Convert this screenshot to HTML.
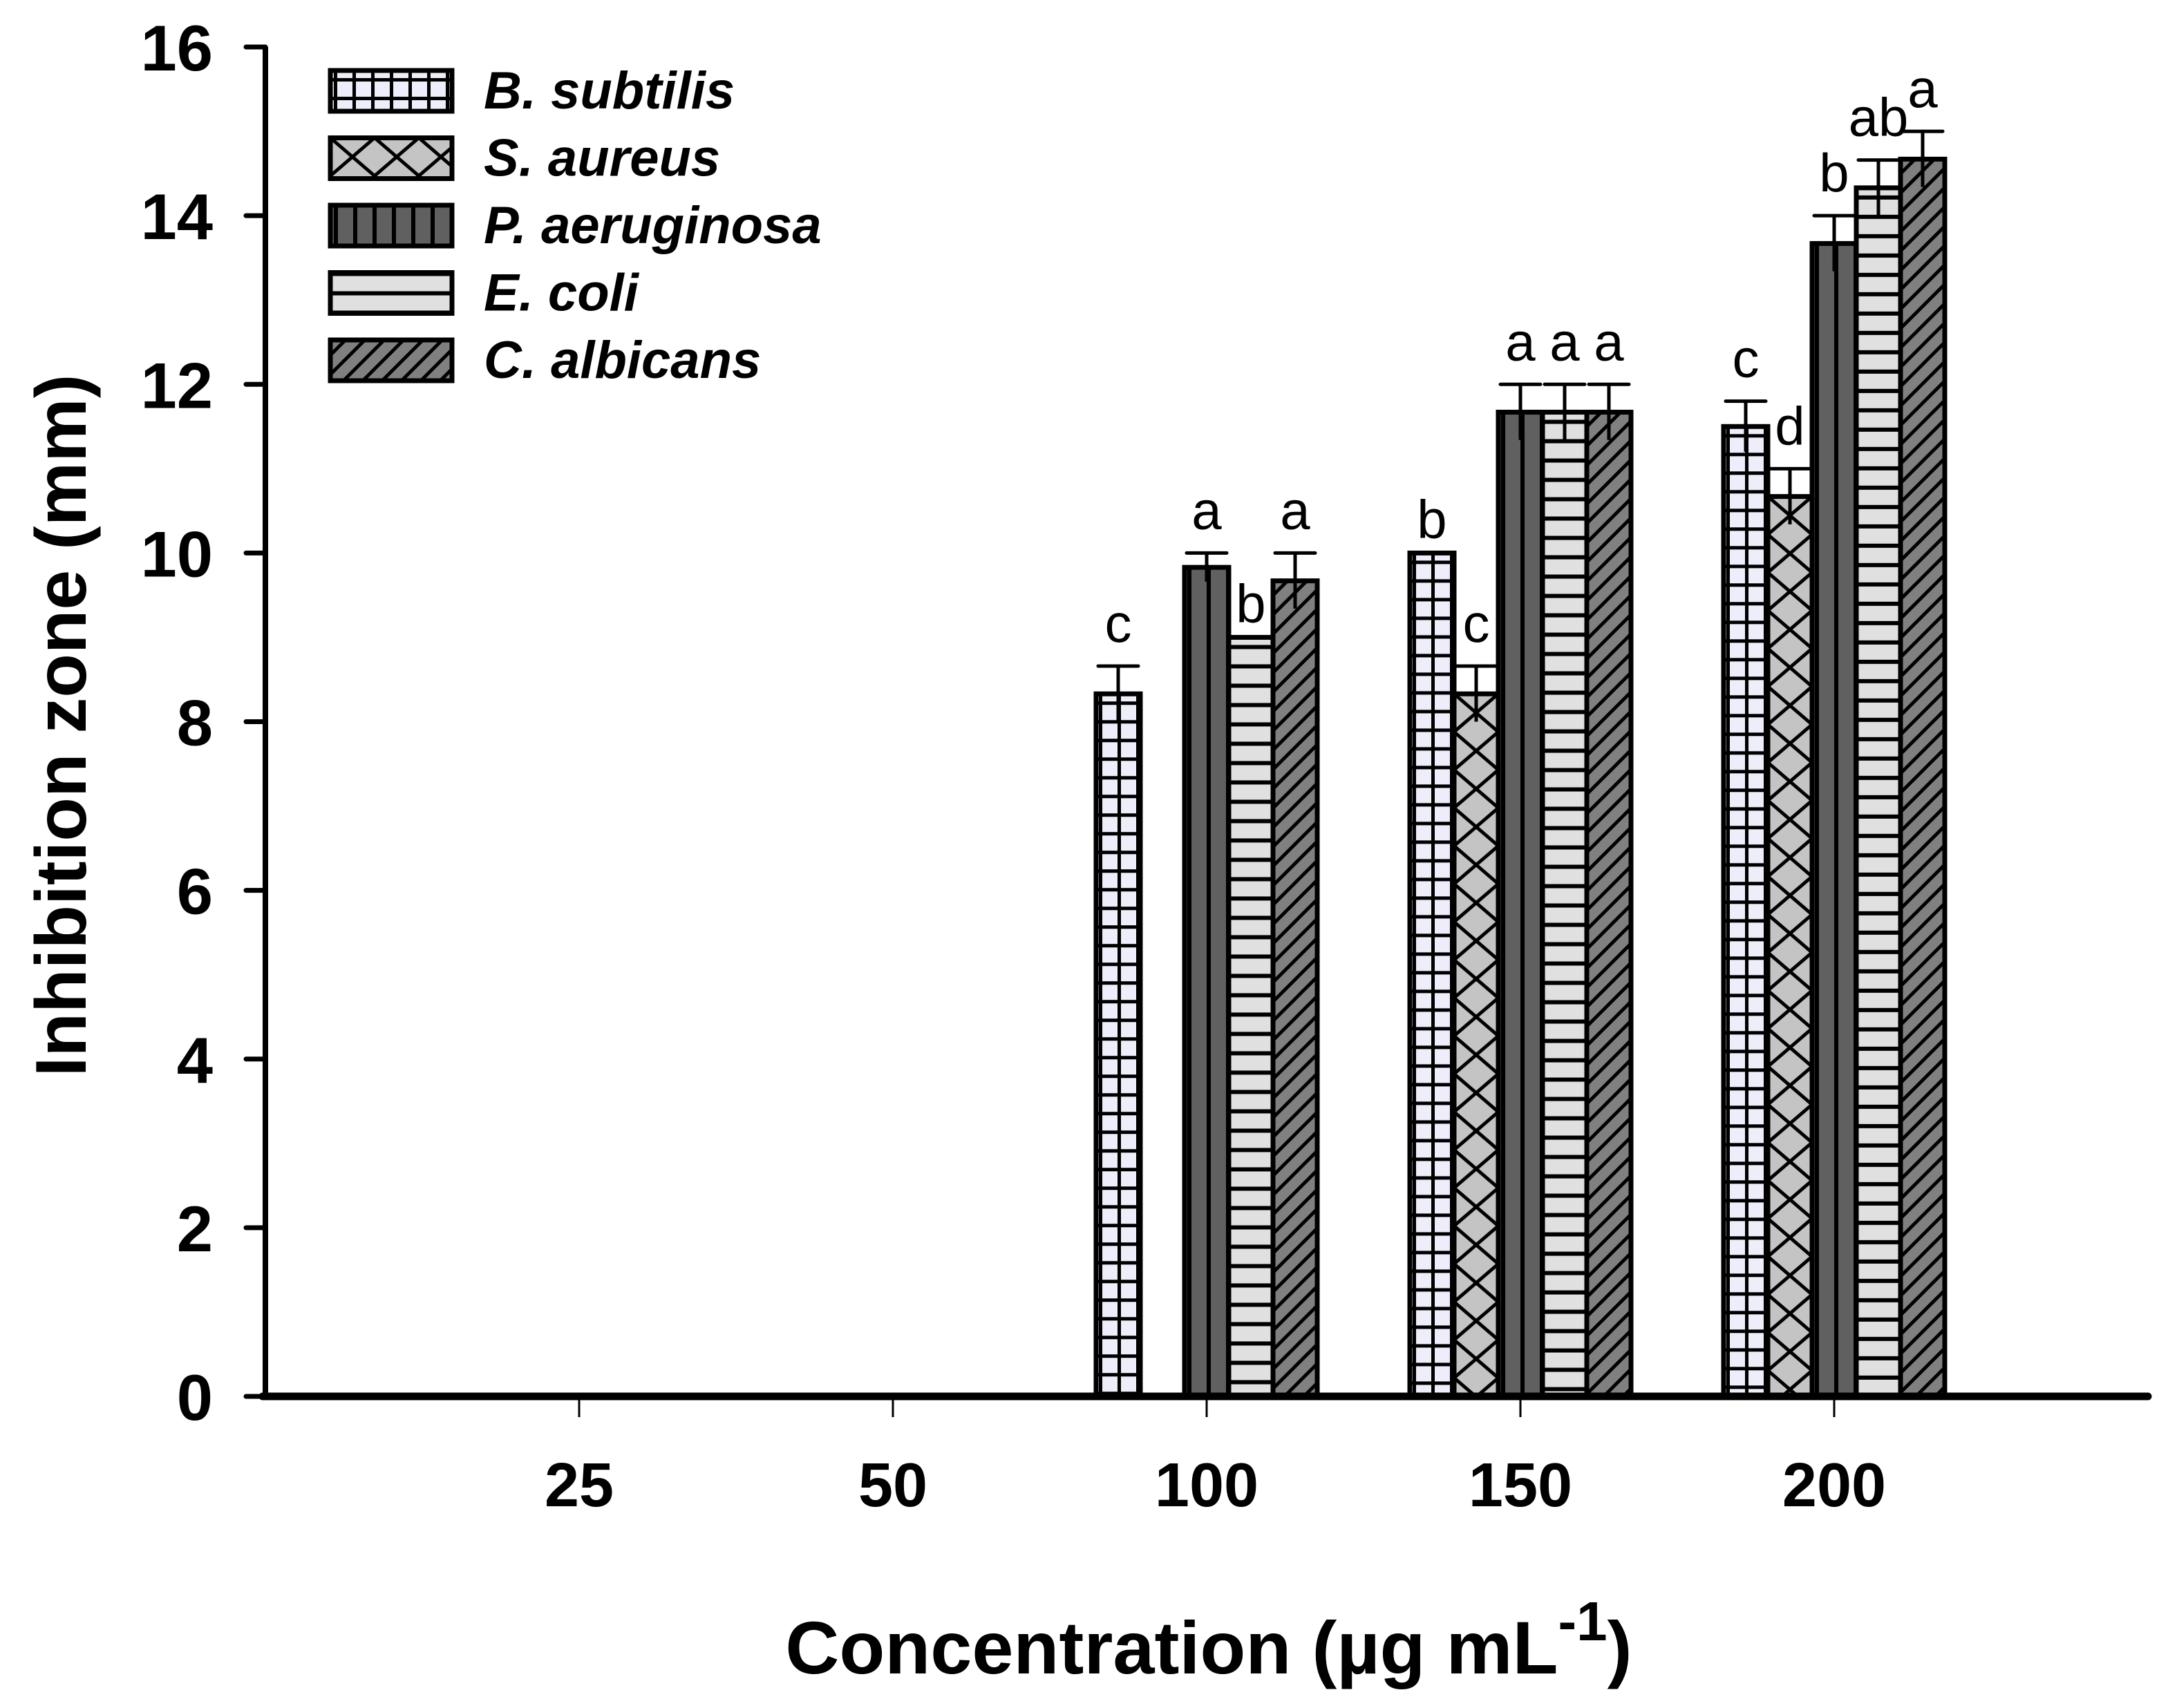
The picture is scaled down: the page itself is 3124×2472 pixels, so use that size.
<!DOCTYPE html>
<html><head><meta charset="utf-8"><style>
html,body{margin:0;padding:0;background:#fff}
svg{display:block}
text{font-family:"Liberation Sans",Arial,sans-serif}
</style></head><body>
<svg id="chart" width="3124" height="2472" viewBox="0 0 3124 2472" xmlns="http://www.w3.org/2000/svg">
<defs id="defs"></defs>
<g id="plot"></g>
</svg>
<script>
const categories = ["25","50","100","150","200"];
const seriesNames = ["B. subtilis","S. aureus","P. aeruginosa","E. coli","C. albicans"];
const bSubtilis = [0,0,8.33,10.0,11.5];
const sAureus = [0,0,0,8.33,10.67];
const pAeruginosa = [0,0,9.83,11.67,13.67];
const eColi = [0,0,9.0,11.67,14.33];
const cAlbicans = [0,0,9.67,11.67,14.67];
const bSubtilisErr = [0,0,0.33,0,0.3];
const sAureusErr = [0,0,0,0.33,0.33];
const pAeruginosaErr = [0,0,0.17,0.33,0.33];
const eColiErr = [0,0,0,0.33,0.33];
const cAlbicansErr = [0,0,0.33,0.33,0.33];
const bSubtilisLetters = ["","","c","b","c"];
const sAureusLetters = ["","","","c","d"];
const pAeruginosaLetters = ["","","a","a","b"];
const eColiLetters = ["","","b","a","ab"];
const cAlbicansLetters = ["","","a","a","a"];
const yTicks = [0,2,4,6,8,10,12,14,16];

const values=[bSubtilis,sAureus,pAeruginosa,eColi,cAlbicans];
const errs=[bSubtilisErr,sAureusErr,pAeruginosaErr,eColiErr,cAlbicansErr];
const letters=[bSubtilisLetters,sAureusLetters,pAeruginosaLetters,eColiLetters,cAlbicansLetters];
const slugs=["b-subtilis","s-aureus","p-aeruginosa","e-coli","c-albicans"];

const NS="http://www.w3.org/2000/svg";
const X0=384, Y0=2021, YTOP=68, CW=454, BW=64;
const yMax=16;
function yS(v){return Y0-(v/yMax)*(Y0-YTOP);}
function xS(i){return X0+(i+1)*CW;}
const plot=document.getElementById('plot');
const defs=document.getElementById('defs');
function mk(tag,attrs,parent){const e=document.createElementNS(NS,tag);for(const k in attrs)e.setAttribute(k,attrs[k]);(parent||plot).appendChild(e);return e;}

let pid=0;
function makePattern(s,ox,oy){
  const id='p'+(pid++);
  let w,h,fill,draw;
  if(s===0){w=27;h=27;fill='#eeeefb';draw=p=>{mk('line',{x1:0,y1:h/2,x2:w,y2:h/2,stroke:'#000','stroke-width':5},p);mk('line',{x1:w/2,y1:0,x2:w/2,y2:h,stroke:'#000','stroke-width':5},p);};}
  else if(s===1){w=64;h=110;fill='#c4c4c4';draw=p=>{mk('polyline',{points:`0,0 ${w},${h/2} 0,${h}`,fill:'none',stroke:'#000','stroke-width':5},p);mk('polyline',{points:`${w},0 0,${h/2} ${w},${h}`,fill:'none',stroke:'#000','stroke-width':5},p);};}
  else if(s===2){w=28;h=28;fill='#606060';draw=p=>{mk('line',{x1:w/2,y1:0,x2:w/2,y2:h,stroke:'#000','stroke-width':6},p);};}
  else if(s===3){w=28;h=28;fill='#e0e0e0';draw=p=>{mk('line',{x1:0,y1:h/2,x2:w,y2:h/2,stroke:'#000','stroke-width':6},p);};}
  else {w=28;h=28;fill='#808080';draw=p=>{mk('line',{x1:-4,y1:h+4,x2:w+4,y2:-4,stroke:'#000','stroke-width':5},p);mk('line',{x1:-4,y1:4,x2:4,y2:-4,stroke:'#000','stroke-width':5},p);mk('line',{x1:w-4,y1:h+4,x2:w+4,y2:h-4,stroke:'#000','stroke-width':5},p);};}
  const pat=mk('pattern',{id:id,patternUnits:'userSpaceOnUse',x:ox,y:oy,width:w,height:h},defs);
  mk('rect',{x:0,y:0,width:w,height:h,fill:fill},pat);
  draw(pat);
  return 'url(#'+id+')';
}

// bars
for(let s=0;s<5;s++){
  for(let i=0;i<categories.length;i++){
    const v=values[s][i]; if(!v) continue;
    const bx=xS(i)-2.5*BW+s*BW, top=yS(v);
    const r=mk('rect',{x:bx,y:top,width:BW,height:Y0-top,fill:makePattern(s,bx+(s===1?0:-7),top),stroke:'#000','stroke-width':7});
    
    
  }
}
// error bars & letters
for(let s=0;s<5;s++){
  for(let i=0;i<categories.length;i++){
    const v=values[s][i]; if(!v) continue;
    const cx=xS(i)-2.5*BW+s*BW+BW/2, e=errs[s][i];
    let ltop=yS(v)-22;
    if(e>0){
      const g=mk('g',{});
      
      
      mk('line',{x1:cx,y1:yS(v-e),x2:cx,y2:yS(v+e),stroke:'#000','stroke-width':5},g);
      mk('line',{x1:cx-29,y1:yS(v+e),x2:cx+29,y2:yS(v+e),stroke:'#000','stroke-width':5,'stroke-linecap':'round'},g);
      ltop=yS(v+e)-35;
    }
    const L=letters[s][i];
    if(L){
      const t=mk('text',{x:cx,y:ltop,'font-size':78,'text-anchor':'middle',fill:'#000'});
      t.textContent=L;
      
      
    }
  }
}
// axes
const ya=mk('line',{x1:X0,y1:YTOP,x2:X0,y2:Y0+5,stroke:'#000','stroke-width':8});


const xa=mk('line',{x1:X0-4,y1:Y0,x2:X0+6*CW,y2:Y0,stroke:'#000','stroke-width':11,'stroke-linecap':'round'});


for(const t of yTicks){
  mk('line',{x1:X0-28,y1:yS(t),x2:X0,y2:yS(t),stroke:'#000','stroke-width':7,'stroke-linecap':'round'});
  const tx=mk('text',{x:308,y:yS(t)+34,'font-size':94,'font-weight':'bold','text-anchor':'end'});
  tx.textContent=t;
  
  
}
for(let i=0;i<categories.length;i++){
  mk('line',{x1:xS(i),y1:Y0,x2:xS(i),y2:Y0+30,stroke:'#000','stroke-width':3});
  const tx=mk('text',{x:xS(i),y:2180,'font-size':90,'font-weight':'bold','text-anchor':'middle'});
  tx.textContent=categories[i];
  
  
}
// legend
for(let s=0;s<5;s++){
  const g=mk('g',{});
  
  
  const ry=102+s*97.5;
  mk('rect',{x:478,y:ry,width:176,height:59,fill:makePattern(s,s===1?478:472,s===3?ry+16:ry),stroke:'#000','stroke-width':7},g);
  const t=mk('text',{x:700,y:ry+55,'font-size':76,'font-weight':'bold','font-style':'italic'},g);
  t.textContent=seriesNames[s];
}
</script>
<svg style="position:absolute;left:0;top:0" width="3124" height="2472" xmlns="http://www.w3.org/2000/svg">
<text transform="translate(124,1050) rotate(-90)" text-anchor="middle" font-size="104" font-weight="bold" font-family="Liberation Sans, sans-serif">Inhibition zone (mm)</text>
<text x="1749" y="2422" text-anchor="middle" font-size="108" font-weight="bold" font-family="Liberation Sans, sans-serif">Concentration (µg mL<tspan dy="-48" font-size="80">-1</tspan><tspan dy="48">)</tspan></text>
</svg>
</body></html>
